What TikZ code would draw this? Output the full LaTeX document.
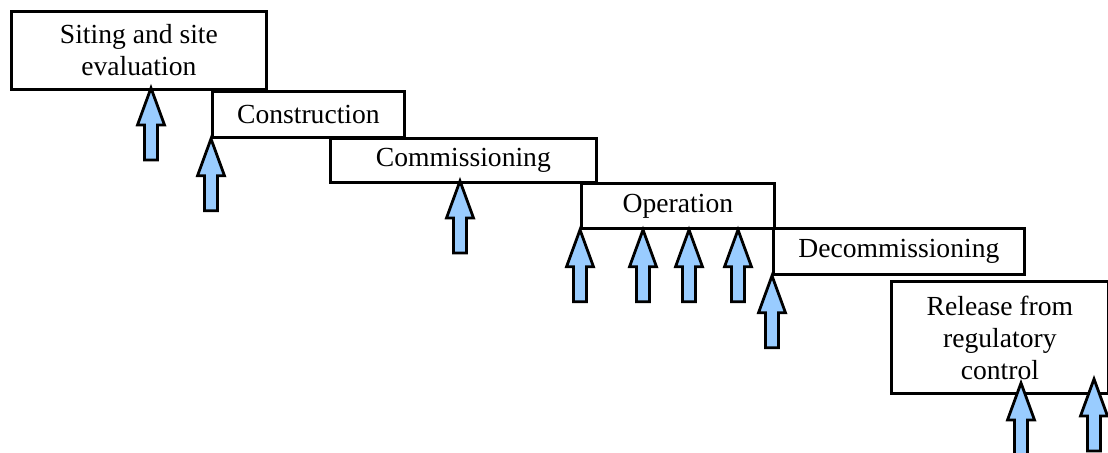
\documentclass[tikz,border=0pt]{standalone}
\usepackage{fontspec}
\setmainfont{Liberation Serif}
\usepackage{tikz}
\usetikzlibrary{positioning}
\definecolor{arrowblue}{RGB}{153,204,255}

\begin{document}
\begin{tikzpicture}[
    x=0.5pt, y=-0.5pt,
    phase/.style={draw=black, line width=1.4pt, fill=white, align=center,
        anchor=north west, inner sep=0pt,
        font=\fontsize{13.8}{16}\selectfont},
    uparrow/.pic={
        \draw[line width=1.4pt, fill=arrowblue] (0,0) -- (-6.75pt,-18.5pt)
            -- (-3.25pt,-18.5pt) -- (-3.25pt,-36pt) -- (3.25pt,-36pt)
            -- (3.25pt,-18.5pt) -- (6.75pt,-18.5pt) -- cycle;
    }
]
\useasboundingbox (0,0) rectangle (1108,452);

\node[phase, minimum width=127.5pt, minimum height=39pt] (siting) at (10,10) {Siting and site\\evaluation};
\node[phase, minimum width=96pt, minimum height=23pt] (construction) at (211,90) {Construction};
\node[phase, minimum width=133pt, minimum height=22pt] (commissioning) at (329,137) {Commissioning};
\node[phase, minimum width=96.5pt, minimum height=22.5pt] (operation) at (580,182) {Operation};
\node[phase, minimum width=125.5pt, minimum height=23pt] (decommissioning) at (772,227) {Decommissioning};
\node[phase, minimum width=108.5pt, minimum height=56pt, text depth=0pt] (release) at (890,280) {Release from\\regulatory\\control};

\coordinate (tipsiting) at (151,88);
\coordinate (tipcommissioning) at (460,181);
\coordinate (tipreleasea) at (1021,383);
\coordinate (tipreleaseb) at (1094,379);

\pic at (tipsiting) {uparrow};
\pic at (construction.south west) {uparrow};
\pic at (tipcommissioning) {uparrow};
\pic at (operation.south west) {uparrow};
\foreach \dx in {63,109,158}
    \pic at ([xshift=\dx*0.5pt]operation.south west) {uparrow};
\pic at (decommissioning.south west) {uparrow};
\pic at (tipreleasea) {uparrow};
\pic at (tipreleaseb) {uparrow};
\end{tikzpicture}
\end{document}
